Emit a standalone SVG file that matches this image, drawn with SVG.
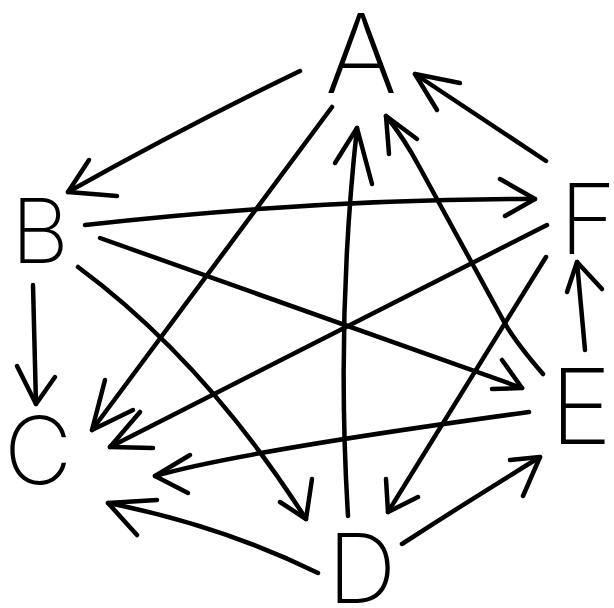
<svg xmlns="http://www.w3.org/2000/svg" width="614" height="608" viewBox="0 0 614 608">
<style>
.edge{fill:none;stroke:#000;stroke-width:4.5;stroke-linecap:round;stroke-linejoin:round}
.lbl{font-family:Inter,"Open Sans","DejaVu Sans",sans-serif;font-weight:200;fill:#000;text-anchor:middle}
</style>
<rect width="614" height="608" fill="#fff"/>
<g id="connectors">
<g id="A-B"><path class="edge" d="M300,71 Q186,126 68,192"/><path class="edge" d="M89,160 L68,192 L117,196"/></g>
<g id="A-C"><path class="edge" d="M332,107 L92,430"/><path class="edge" d="M105,380 L92,430 L133,410"/></g>
<g id="D-A"><path class="edge" d="M348,516 Q336,320 357,128"/><path class="edge" d="M335,163 L357,128 L372,184"/></g>
<g id="E-A"><path class="edge" d="M543,374 Q512,338 502,318 L420,168 Q404,138 386,116"/><path class="edge" d="M389,154 L386,116 L417,139"/></g>
<g id="F-A"><path class="edge" d="M546,161 L415,74"/><path class="edge" d="M460,83 L415,74 L437,110"/></g>
<g id="B-F"><path class="edge" d="M85,225 Q315,199 535,199"/><path class="edge" d="M500,179 L535,199 L505,216"/></g>
<g id="B-E"><path class="edge" d="M100,238 L522,388"/><path class="edge" d="M502,360 L522,388 L492,389"/></g>
<g id="B-C"><path class="edge" d="M33,285 L36,404"/><path class="edge" d="M17,366 L36,404 L55,377"/></g>
<g id="B-D"><path class="edge" d="M78,267 Q205,361 306,519"/><path class="edge" d="M312,479 L306,519 L280,502"/></g>
<g id="F-C"><path class="edge" d="M547,225 L110,447"/><path class="edge" d="M140,412 L110,447 L153,448"/></g>
<g id="F-D"><path class="edge" d="M546,257 L388,512"/><path class="edge" d="M386,479 L388,512 L418,497"/></g>
<g id="E-F"><path class="edge" d="M585,350 L577,262"/><path class="edge" d="M567,292 L577,262 L602,289"/></g>
<g id="E-C"><path class="edge" d="M529,412 Q237,452 155,476"/><path class="edge" d="M190,455 L155,476 L188,493"/></g>
<g id="D-C"><path class="edge" d="M318,573 Q220,525 108,503"/><path class="edge" d="M157,500 L108,503 L137,535"/></g>
<g id="D-E"><path class="edge" d="M402,544 Q470,500 540,457"/><path class="edge" d="M510,460 L540,457 L523,496"/></g>
</g>
<g id="A"><text class="lbl" x="361" y="93" font-size="110">A</text></g>
<g id="B"><text class="lbl" x="40" y="263" font-size="90">B</text></g>
<g id="C"><text class="lbl" x="38" y="484" font-size="94">C</text></g>
<g id="D"><text class="lbl" x="362" y="603" font-size="96">D</text></g>
<g id="E"><text class="lbl" x="581" y="444" font-size="105">E</text></g>
<g id="F"><text class="lbl" x="588" y="254" font-size="97">F</text></g>
</svg>
